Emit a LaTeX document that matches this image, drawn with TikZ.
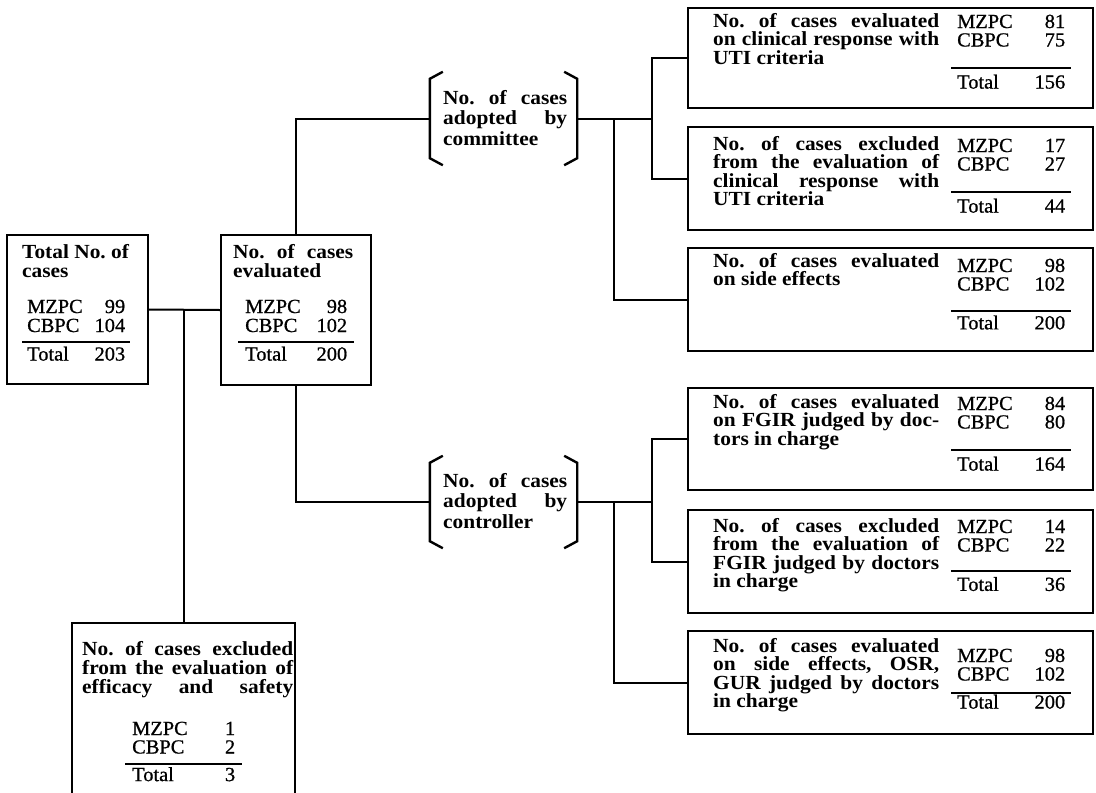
\documentclass[tikz,border=0pt]{standalone}
\usepackage{fontspec}
\setmainfont{Liberation Serif}[FakeStretch=1.07]
\newfontfamily\numfont{Liberation Serif}[FakeStretch=1.02, FakeBold=0.8]
\usetikzlibrary{calc}
\frenchspacing
\newdimen\jw
\newcommand\jline[1]{\hbox to \jw{#1}}
\newcommand\lline[1]{\hbox{#1}}
\newcommand\desc[3]{\vtop{\frenchspacing\jw=#1\relax\bfseries\fontsize{20pt}{#2}\selectfont #3}}
\newcommand\tbl[8]{\vtop{\numfont\fontsize{20pt}{#8}\selectfont
 \hbox to \dimexpr#1+#2+#2\relax{\kern#2 MZPC\hfill #3\kern#2}%
 \hbox to \dimexpr#1+#2+#2\relax{\kern#2 CBPC\hfill #4\kern#2}%
 \kern#6\hrule height 1.8pt\kern#7
 \hbox to \dimexpr#1+#2+#2\relax{\kern#2 Total\hfill #5\kern#2}}}
\begin{document}
\begin{tikzpicture}[x=1pt,y=-1pt,
  box/.style={draw, line width=2.4pt, inner sep=0pt},
  brknode/.style={inner sep=0pt},
  conn/.style={line width=2pt},
  brk/.style={line width=2.4pt},
  txt/.style={anchor=base west, inner sep=0pt}]
\useasboundingbox (0,0) rectangle (1096,793);

% boxes
\node[box, minimum width=141pt, minimum height=149pt] (B1) at (77.5,309.5) {};
\node[box, minimum width=150pt, minimum height=150pt] (B2) at (296,310) {};
\node[box, minimum width=223pt, minimum height=210pt] (B3) at (183.5,728) {};
\node[brknode, minimum width=147pt, minimum height=93pt] (com) at (503.5,118.5) {};
\node[brknode, minimum width=147pt, minimum height=92pt] (con) at (503.5,502) {};
\node[box, minimum width=405pt, minimum height=100pt] (A) at (890.5,58) {};
\node[box, minimum width=405pt, minimum height=103pt] (B) at (890.5,178.5) {};
\node[box, minimum width=405pt, minimum height=103pt] (C) at (890.5,299.5) {};
\node[box, minimum width=405pt, minimum height=102pt] (D) at (890.5,439) {};
\node[box, minimum width=405pt, minimum height=103pt] (E) at (890.5,561.5) {};
\node[box, minimum width=405pt, minimum height=103pt] (F) at (890.5,682.5) {};

% brackets
\foreach \n in {com,con}{
  \draw[brk] ($(\n.north west)+(13,0)$) -- ($(\n.north west)+(0,7)$) -- ($(\n.south west)+(0,-7)$) -- ($(\n.south west)+(13,0)$);
  \draw[brk] ($(\n.north east)+(-13,0)$) -- ($(\n.north east)+(0,7)$) -- ($(\n.south east)+(0,-7)$) -- ($(\n.south east)+(-13,0)$);
}

% connectors
\draw[conn] (B1.east) -- (B2.west);
\draw[conn] (B3.north) -- (B3.north |- B1.east);
\draw[conn] (B2.north) |- (com.west);
\draw[conn] (B2.south) |- (con.west);
\coordinate (cj1) at ($(com.east)+(75,0)$);
\coordinate (ci1) at ($(com.east)+(37,0)$);
\coordinate (cj2) at ($(con.east)+(75,0)$);
\coordinate (ci2) at ($(con.east)+(37,0)$);
\draw[conn] (com.east) -- (cj1);
\draw[conn] (A.west) -| (cj1) |- (B.west);
\draw[conn] (ci1) |- (C.west);
\draw[conn] (con.east) -- (cj2);
\draw[conn] (D.west) -| (cj2) |- (E.west);
\draw[conn] (ci2) |- (F.west);

% texts: left
\node[txt] (t1) at (22,258) {\desc{120pt}{19.5pt}{\lline{Total No. of}\lline{cases}}};
\node[txt] (v1) at (22,313) {\tbl{98pt}{5pt}{99}{104}{203}{9.2pt}{3.5pt}{19pt}};
\node[txt] (t2) at (233,258) {\desc{120pt}{19.5pt}{\jline{No. of cases}\lline{evaluated}}};
\node[txt] (v2) at (238,313) {\tbl{102pt}{7pt}{98}{102}{200}{9.2pt}{3.5pt}{19pt}};
\node[txt] (t3) at (82,655) {\desc{211pt}{19pt}{\jline{No. of cases excluded}\jline{from the evaluation of}\jline{efficacy and safety}}};
\node[txt] (v3) at (125,735) {\tbl{103pt}{7pt}{1}{2}{3}{9.2pt}{2.5pt}{18.5pt}};

% bracket texts
\node[txt] (tc) at (443,104) {\desc{124pt}{20.5pt}{\jline{No. of cases}\jline{adopted by}\lline{committee}}};
\node[txt] (tk) at (443,487) {\desc{124pt}{20.5pt}{\jline{No. of cases}\jline{adopted by}\lline{controller}}};

% right boxes
\node[txt] (tA) at (713,27) {\desc{226pt}{18.6pt}{\jline{No. of cases evaluated}\jline{on clinical response with}\lline{UTI criteria}}};
\node[txt] (vA) at (951,28) {\tbl{108pt}{6pt}{81}{75}{156}{20.7pt}{5.5pt}{18.5pt}};
\node[txt] (tB) at (713,150) {\desc{226pt}{18.6pt}{\jline{No. of cases excluded}\jline{from the evaluation of}\jline{clinical response with}\lline{UTI criteria}}};
\node[txt] (vB) at (951,152) {\tbl{108pt}{6pt}{17}{27}{44}{20.7pt}{5.5pt}{18.5pt}};
\node[txt] (tC) at (713,267) {\desc{226pt}{18.6pt}{\jline{No. of cases evaluated}\lline{on side effects}}};
\node[txt] (vC) at (951,272) {\tbl{108pt}{6pt}{98}{102}{200}{19pt}{4pt}{18.5pt}};
\node[txt] (tD) at (713,408) {\desc{226pt}{18.6pt}{\jline{No. of cases evaluated}\jline{on FGIR judged by doc-}\lline{tors in charge}}};
\node[txt] (vD) at (951,410) {\tbl{108pt}{6pt}{84}{80}{164}{20.7pt}{5.5pt}{18.5pt}};
\node[txt] (tE) at (713,532) {\desc{226pt}{18.6pt}{\jline{No. of cases excluded}\jline{from the evaluation of}\jline{FGIR judged by doctors}\lline{in charge}}};
\node[txt] (vE) at (951,533) {\tbl{108pt}{6pt}{14}{22}{36}{18pt}{5.5pt}{18.5pt}};
\node[txt] (tF) at (713,652) {\desc{226pt}{18.6pt}{\jline{No. of cases evaluated}\jline{on side effects, OSR,}\jline{GUR judged by doctors}\lline{in charge}}};
\node[txt] (vF) at (951,662) {\tbl{108pt}{6pt}{98}{102}{200}{11.7pt}{0.5pt}{18.5pt}};
\end{tikzpicture}
\end{document}
